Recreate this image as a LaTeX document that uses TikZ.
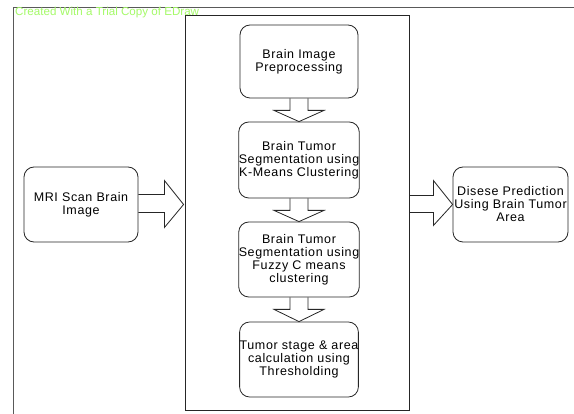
\documentclass[tikz,border=0pt]{standalone}
\usepackage{fontspec}
\setmainfont{Liberation Sans}
\newfontfamily\boxfont[LetterSpace=5]{Liberation Sans}
\usetikzlibrary{calc}
\tikzset{
  box/.style={draw=black!85, line width=0.8pt, rounded corners=10pt, align=center,
    inner sep=0pt, font=\boxfont\fontsize{12.5}{13}\selectfont, text=black},
  frame/.style={draw=black!85, line width=0.8pt, inner sep=0pt},
  arr/.style={draw=black!85, line width=0.8pt, line join=miter},
  outer/.style={draw=black!65, line width=1pt},
  trial/.style={text={rgb,255:red,165;green,250;blue,105}, font=\fontsize{11.6}{12}\selectfont, inner sep=0pt, anchor=west}
}
\newcommand{\darr}[2]{%
  \draw[arr] ($(#1.south)+(-9,0)$) -- ($(#1.south)+(-9,12)$) -- ($(#1.south)+(-25,12)$)
    -- (#2.north) -- ($(#1.south)+(25,12)$) -- ($(#1.south)+(9,12)$) -- ($(#1.south)+(9,0)$);}
\begin{document}
\begin{tikzpicture}[x=1pt,y=-1pt]
\useasboundingbox (0,0) rectangle (574,414);
\fill[white] (0,0) rectangle (574,414);
% outer frame (continues beyond the page)
\coordinate (otl) at (13,8);
\coordinate (otr) at (574,8);
\coordinate (obl) at (13,414);
\draw[outer] (otr) -- (otl) -- (obl);
% inner frame
\node[frame, minimum width=224pt, minimum height=395pt] (fr) at (297,212.5) {};
% boxes
\node[box, minimum width=118pt, minimum height=73pt] (b1) at (299,61.5) {Brain Image\\Preprocessing};
\node[box, minimum width=118pt, minimum height=76pt] (b2) at (299,160) {Brain Tumor\\Segmentation using\\K-Means Clustering};
\node[box, minimum width=118pt, minimum height=75pt] (b3) at (299,259.5) {Brain Tumor\\Segmentation using\\Fuzzy C means\\clustering};
\node[box, minimum width=118pt, minimum height=75pt] (b4) at (299,359.5) {Tumor stage \& area\\calculation using\\Thresholding};
\node[box, minimum width=114pt, minimum height=75pt] (mri) at (81,204.5) {MRI Scan Brain\\Image};
\node[box, minimum width=115pt, minimum height=75pt] (dis) at (510.5,204.5) {Disese Prediction\\Using Brain Tumor\\Area};
% down arrows
\darr{b1}{b2}
\darr{b2}{b3}
\darr{b3}{b4}
% left arrow
\coordinate (lt) at (fr.west |- mri.east);
\draw[arr] ($(mri.east)+(0,-10)$) -- ($(mri.east)+(26,-10)$) -- ($(mri.east)+(26,-24)$)
  -- ($(lt)+(-1,0)$) -- ($(mri.east)+(26,23)$) -- ($(mri.east)+(26,8)$) -- ($(mri.east)+(0,8)$);
% right arrow
\coordinate (rs) at (fr.east |- dis.west);
\draw[arr] ($(rs)+(0,-9)$) -- ($(rs)+(24,-9)$) -- ($(rs)+(24,-24)$)
  -- (dis.west) -- ($(rs)+(24,21)$) -- ($(rs)+(24,8)$) -- ($(rs)+(0,8)$);
% watermark
\node[trial] (wm) at (15,13) {Created With a Trial Copy of EDraw};
\end{tikzpicture}
\end{document}
